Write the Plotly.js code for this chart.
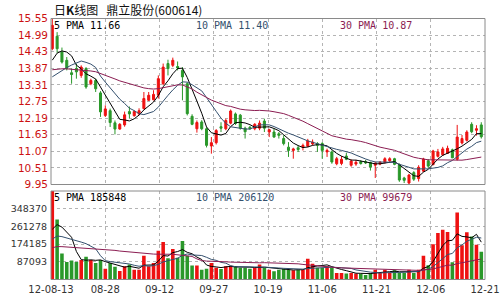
<!DOCTYPE html>
<html><head><meta charset="utf-8">
<script src="https://cdn.plot.ly/plotly-3.0.1.min.js"></script>
<style>html,body{margin:0;padding:0;background:#fff}#chart{width:500px;height:300px}</style>
</head><body><div id="chart"></div>
<script>
// ---- data ----
const tickLabels = ['12-08-13','08-28','09-12','09-27','10-19','11-06','11-21','12-06','12-21'];
const priceTicks = [9.95,10.51,11.07,11.63,12.19,12.75,13.31,13.87,14.43,14.99,15.55];
const volumeTicks = [87093,174185,261278,348370];
const volumeMax = 435463;
const priceLegend = ['5 PMA 11.66','10 PMA 11.40','30 PMA 10.87'];
const volumeLegend = ['5 PMA 185848','10 PMA 206120','30 PMA 99679'];
const titleText = '日<b>K</b>线图\u00a0\u00a0\u00a0鼎立股份(600614)';

const open = [14.53,14.95,14.42,14.14,13.72,13.86,13.63,13.86,13.35,13.46,
 13.04,12.28,12.44,12.03,11.82,11.96,12.41,12.27,12.33,12.51,
 12.79,12.81,12.96,13.35,14.03,13.97,13.93,13.80,13.35,12.25,
 11.83,12.06,11.83,11.25,11.36,11.90,11.83,12.02,12.33,12.29,
 11.85,11.88,11.83,11.85,12.09,11.72,11.72,11.66,11.50,11.21,
 11.10,11.19,11.21,11.24,11.32,11.33,11.33,11.05,11.05,10.65,
 10.66,10.91,10.60,10.64,10.72,10.72,10.69,10.60,10.64,10.69,
 10.75,10.82,10.61,10.17,10.00,10.35,10.15,10.40,10.75,10.62,
 10.90,10.95,11.00,11.12,10.80,11.35,11.44,11.98,11.78,11.96];
const high = [15.55,15.09,14.57,14.25,13.86,14.03,13.97,13.91,13.52,13.52,
 13.10,12.62,12.51,12.11,12.02,12.41,12.58,12.45,12.52,13.07,
 13.07,13.13,13.63,14.03,14.16,14.23,14.10,13.91,13.40,12.32,
 12.11,12.12,11.88,11.55,11.82,12.05,12.17,12.48,12.38,12.33,
 11.90,11.93,12.02,12.11,12.17,11.83,11.83,11.72,11.61,11.38,
 11.19,11.27,11.33,11.49,11.47,11.38,11.38,11.16,11.10,10.88,
 10.91,11.02,10.80,10.78,10.77,10.78,10.72,10.72,10.74,10.87,
 10.87,10.85,10.66,10.21,10.31,10.40,10.60,10.85,10.81,11.12,
 11.15,11.22,11.26,11.16,11.96,11.62,11.78,12.05,11.95,12.05];
const low = [14.48,14.39,14.03,13.80,13.35,13.52,13.55,13.18,13.30,13.07,
 12.23,12.23,11.89,11.64,11.80,11.90,12.18,12.24,12.28,12.48,
 12.77,12.79,12.85,13.30,13.63,13.91,13.80,12.79,12.28,11.95,
 11.70,11.78,11.20,10.99,11.30,11.72,11.78,11.98,11.96,11.80,
 11.50,11.80,11.78,11.78,11.72,11.55,11.53,11.50,11.27,10.88,
 10.82,11.05,11.10,11.21,11.27,11.05,10.82,10.88,10.65,10.60,
 10.60,10.77,10.55,10.58,10.62,10.64,10.42,10.17,10.60,10.66,
 10.72,10.60,10.04,10.00,9.95,10.07,10.05,10.37,10.50,10.60,
 10.86,10.92,10.98,10.84,10.76,11.30,11.40,11.68,11.60,11.50];
const close = [15.32,14.53,14.08,13.86,13.66,13.75,13.91,13.24,13.46,13.18,
 12.40,12.50,12.04,11.82,11.98,12.30,12.33,12.41,12.44,12.85,
 12.96,12.99,13.52,13.91,13.86,14.14,13.88,13.58,12.34,11.98,
 12.04,11.83,11.27,11.36,11.77,11.85,12.11,12.43,12.01,11.85,
 11.73,11.83,11.98,12.02,11.85,11.80,11.55,11.61,11.33,11.10,
 11.15,11.13,11.27,11.42,11.38,11.27,11.10,11.10,10.71,10.82,
 10.80,10.80,10.74,10.70,10.66,10.68,10.54,10.66,10.70,10.82,
 10.82,10.63,10.10,10.09,10.27,10.13,10.53,10.81,10.57,11.08,
 11.05,11.15,11.17,10.85,11.55,11.50,11.72,11.73,11.83,11.56];
const volume = [435463,295410,128300,86200,93100,85900,96400,112200,95800,81300,
 96100,53200,80800,62400,42100,65300,74200,48100,47900,116300,
 65200,81100,141200,184300,104800,150200,107100,189400,117200,69100,
 68800,48300,53100,81200,58300,52100,65200,67300,66900,58100,
 58200,53300,58100,74200,57900,48200,41100,48300,52100,46200,
 45900,48100,48300,102200,77100,58200,57900,65100,58300,32100,
 32300,29100,32200,29300,28900,22100,32100,48200,31900,48100,
 32200,46100,32300,31800,48200,32100,48300,117200,70100,173200,
 229300,245100,233200,85100,329300,168200,232100,211300,171200,136100];
// estimated sessions before 12-08-13 (only feed the moving averages at the left edge)
const priorCloses = [13.80,13.85,13.92,14.00,14.05,14.10,14.02,13.98,13.95,14.05,
 14.10,14.00,13.90,13.95,13.88,13.92,13.98,13.85,13.82,13.68,
 13.40,13.10,12.85,12.80,12.95,13.35,13.70,14.05,14.30];
const priorVolumes = [120000,140000,130000,150000,125000,135000,145000,130000,140000,125000,
 135000,150000,130000,140000,135000,125000,145000,130000,140000,130000,
 140000,160000,145000,150000,155000,180000,190000,210000,220000];

// ---- styles ----
const RED = '#ee1111', GREEN = '#2a982a';
const MA_COLORS = ['#000000', '#34506e', '#8b1d52'];
const GRID = '#b4b4b4', BORDER = '#8a8a8a';

function movingAverage(prior, values, n) {
  const all = prior.concat(values), off = prior.length;
  return values.map((_, i) => {
    let s = 0;
    for (let k = off + i - n + 1; k <= off + i; k++) s += all[k];
    return s / n;
  });
}

const idx = close.map((_, i) => i);
const periods = [5, 10, 30];
const traces = [];
traces.push({
  type: 'candlestick', x: idx, open: open, high: high, low: low, close: close,
  xaxis: 'x', yaxis: 'y', whiskerwidth: 0,
  increasing: {line: {color: RED, width: 1}, fillcolor: RED},
  decreasing: {line: {color: GREEN, width: 1}, fillcolor: GREEN},
  hoverinfo: 'skip'
});
periods.forEach((n, j) => traces.push({
  type: 'scatter', mode: 'lines', x: idx, y: movingAverage(priorCloses, close, n),
  xaxis: 'x', yaxis: 'y', line: {color: MA_COLORS[j], width: 1}, hoverinfo: 'skip'
}));
traces.push({
  type: 'bar', x: idx, y: volume, xaxis: 'x', yaxis: 'y2', width: 0.74,
  marker: {color: close.map((c, i) => c >= open[i] ? RED : GREEN), line: {width: 0}},
  hoverinfo: 'skip'
});
periods.forEach((n, j) => traces.push({
  type: 'scatter', mode: 'lines', x: idx, y: movingAverage(priorVolumes, volume, n),
  xaxis: 'x', yaxis: 'y2', line: {color: MA_COLORS[j], width: 1}, hoverinfo: 'skip'
}));

const W = 500, H = 300;
const left = 51, right = 485, pTop = 18.5, pBot = 184.5, vTop = 191, vBot = 279.5;
const xRange = [-0.27, close.length - 0.23];
const nDiv = tickLabels.length - 1;
const tickvals = tickLabels.map((_, k) => xRange[0] + k * (xRange[1] - xRange[0]) / nDiv);

const legendX = [54, 196, 340];
const annotations = [{
  xref: 'paper', yref: 'paper', x: 52 / W, y: 1 - 9 / H, xanchor: 'left', yanchor: 'middle',
  text: titleText, showarrow: false,
  font: {family: 'Noto Sans CJK SC', size: 12, color: '#111'}
}];
priceLegend.forEach((t, j) => annotations.push({
  xref: 'paper', yref: 'paper', x: legendX[j] / W, y: 1 - 25 / H, xanchor: 'left', yanchor: 'middle',
  text: t, showarrow: false, xshift: -2,
  font: {family: 'DejaVu Sans Mono', size: 10, color: MA_COLORS[j]}
}));
volumeLegend.forEach((t, j) => annotations.push({
  xref: 'paper', yref: 'paper', x: legendX[j] / W, y: 1 - 197 / H, xanchor: 'left', yanchor: 'middle',
  text: t, showarrow: false, xshift: -2,
  font: {family: 'DejaVu Sans Mono', size: 10, color: MA_COLORS[j]}
}));

const rect = (y0, y1) => ({
  type: 'rect', xref: 'paper', yref: 'paper', x0: left / W, x1: right / W,
  y0: 1 - y1 / H, y1: 1 - y0 / H, line: {color: BORDER, width: 1}, fillcolor: 'rgba(0,0,0,0)'
});

const layout = {
  width: W, height: H, margin: {l: 0, r: 0, t: 0, b: 0},
  paper_bgcolor: '#fff', plot_bgcolor: '#fff',
  showlegend: false, hovermode: false, boxgap: 0.4,
  font: {family: 'DejaVu Sans'},
  xaxis: {
    domain: [left / W, right / W], range: xRange, anchor: 'y2',
    tickmode: 'array', tickvals: tickvals, ticktext: tickLabels,
    showgrid: true, gridcolor: GRID, griddash: 'dot', gridwidth: 1,
    zeroline: false, showline: false, ticks: '', ticklabelstandoff: 2,
    tickfont: {family: 'DejaVu Sans', size: 10, color: '#333'},
    rangeslider: {visible: false}, fixedrange: true
  },
  yaxis: {
    domain: [1 - pBot / H, 1 - pTop / H], range: [priceTicks[0], priceTicks[priceTicks.length - 1]],
    anchor: 'x', tickmode: 'array', tickvals: priceTicks, ticktext: priceTicks.map(v => v.toFixed(2)),
    showgrid: true, gridcolor: GRID, griddash: 'dot', zeroline: false, showline: false, ticks: '',
    ticklabelstandoff: 2,
    tickfont: {family: 'DejaVu Sans', size: 10.5, color: '#cc1111'}, fixedrange: true
  },
  yaxis2: {
    domain: [1 - vBot / H, 1 - vTop / H], range: [0, volumeMax],
    anchor: 'x', tickmode: 'array', tickvals: volumeTicks, ticktext: volumeTicks.map(String),
    showgrid: true, gridcolor: GRID, griddash: 'dot', zeroline: false, showline: false, ticks: '',
    ticklabelstandoff: 3,
    tickfont: {family: 'DejaVu Sans', size: 9.5, color: '#333'}, fixedrange: true
  },
  shapes: [rect(pTop, pBot), rect(vTop, vBot)],
  annotations: annotations
};

Plotly.newPlot('chart', traces, layout, {displayModeBar: false, staticPlot: true});
</script></body></html>
